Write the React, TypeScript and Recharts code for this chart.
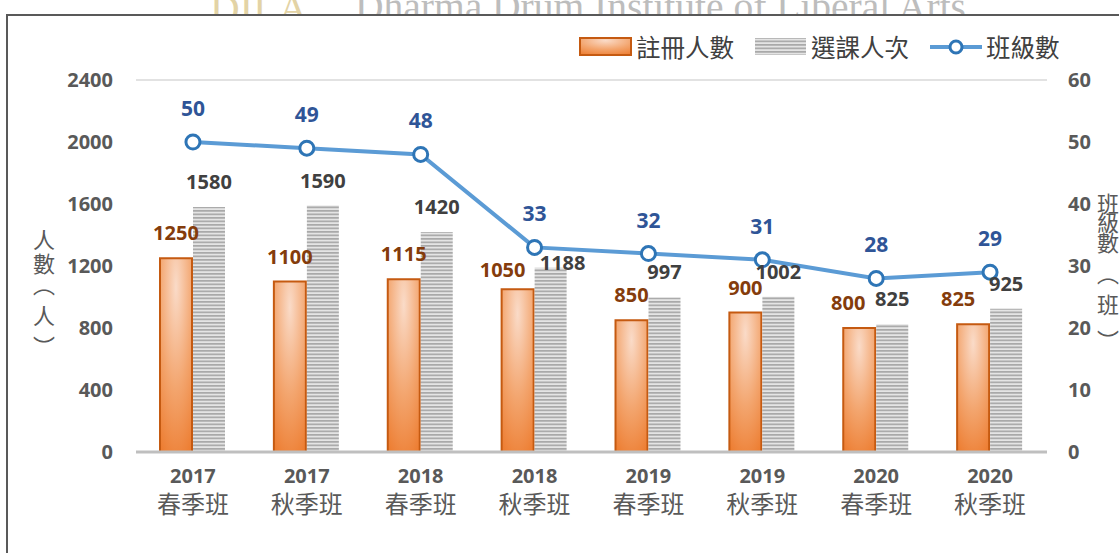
import React from 'react'
import { ComposedChart, Bar, Line, XAxis, YAxis, CartesianGrid, Legend, LabelList } from 'recharts'

const years = ['2017', '2017', '2018', '2018', '2019', '2019', '2020', '2020']
const terms = ['春季班', '秋季班', '春季班', '秋季班', '春季班', '秋季班', '春季班', '秋季班']
const registered = [1250, 1100, 1115, 1050, 850, 900, 800, 825]
const enrolled = [1580, 1590, 1420, 1188, 997, 1002, 825, 925]
const classes = [50, 49, 48, 33, 32, 31, 28, 29]
const leftTicks = [0, 400, 800, 1200, 1600, 2000, 2400]
const rightTicks = [0, 10, 20, 30, 40, 50, 60]

const data = years.map((y, i) => ({
  cat: `${y}\n${terms[i]}`,
  registered: registered[i],
  enrolled: enrolled[i],
  classes: classes[i],
}))

const NUM_FONT = '"Noto Sans", "Noto Sans CJK TC", sans-serif'
const CJK_FONT = '"Noto Sans CJK TC", "Noto Sans", sans-serif'

const XTick = (props: any) => {
  const { x, y, payload } = props
  const [yr, term] = String(payload.value).split('\n')
  return (
    <g>
      <text x={x} y={y + 29} textAnchor="middle" fill="#595959" fontSize={20} fontWeight="bold" fontFamily={NUM_FONT}>
        {yr}
      </text>
      <text x={x} y={y + 59} textAnchor="middle" fill="#595959" fontSize={24} fontFamily={CJK_FONT}>
        {term}
      </text>
    </g>
  )
}

// glyph centre offsets: ︵ sits low in its cell, ︶ sits high
const shiftFor = (c: string) => (c === '︵' ? -9 : c === '︶' ? 9 : 0)

const VerticalTitle = ({ x, ys, chars }: { x: number; ys: number[]; chars: string[] }) => (
  <text fill="#595959" fontSize={22} fontFamily={CJK_FONT} textAnchor="middle">
    {chars.map((c, i) => (
      <tspan key={i} x={x} y={ys[i] + shiftFor(c)} dominantBaseline="central">
        {c}
      </tspan>
    ))}
  </text>
)

const LegendContent = () => (
  <div style={{ display: 'flex', alignItems: 'center', fontFamily: CJK_FONT, fontSize: 24.5, color: '#404040', whiteSpace: 'nowrap' }}>
    <svg width={54} height={20} style={{ marginRight: 3 }}>
      <rect x={1} y={1} width={51} height={17} fill="url(#orangeGrad)" stroke="#C55A11" strokeWidth={2} />
    </svg>
    <span style={{ marginRight: 20 }}>註冊人數</span>
    <svg width={54} height={20} style={{ marginRight: 3 }}>
      <rect x={1} y={1} width={51} height={17} fill="url(#grayStripe)" />
    </svg>
    <span style={{ marginRight: 19 }}>選課人次</span>
    <svg width={56} height={20} style={{ marginRight: 2 }}>
      <line x1={2} y1={10} x2={54} y2={10} stroke="#5B9BD5" strokeWidth={4} />
      <circle cx={28} cy={10} r={6} fill="#fff" stroke="#2E75B6" strokeWidth={3} />
    </svg>
    <span>班級數</span>
  </div>
)

// labels that were dragged aside in the original to dodge neighbours: [dx, dy]
const registeredNudge: Record<number, [number, number]> = { 3: [-15, 6], 6: [-11, 0], 7: [-15, 0] }
const enrolledNudge: Record<number, [number, number]> = { 3: [12, 20] }

const makeBarLabel = (color: string, nudge: Record<number, [number, number]>) => (props: any) => {
  const { x, y, width, value, index } = props
  const [dx, dy] = nudge[index] || [0, 0]
  return (
    <text x={x + width / 2 + dx} y={y - 18 + dy} textAnchor="middle" fill={color} fontSize={20} fontWeight="bold" fontFamily={NUM_FONT}>
      {value}
    </text>
  )
}

const registeredLabel = makeBarLabel('#843C0C', registeredNudge)
const enrolledLabel = makeBarLabel('#404040', enrolledNudge)

export default function App() {
  return (
    <div style={{ position: 'absolute', left: 0, top: 0, width: 1119, height: 553, overflow: 'hidden', background: '#fff' }}>
      <div style={{ position: 'absolute', top: -12, left: 210, fontFamily: '"Liberation Serif", serif', fontSize: 41, lineHeight: 1, whiteSpace: 'nowrap', color: '#E3D3A5' }}>
        DILA
      </div>
      <div style={{ position: 'absolute', top: -12, left: 355, fontFamily: '"Liberation Serif", serif', fontSize: 39.5, lineHeight: 1, whiteSpace: 'nowrap', color: '#BDBDBD' }}>
        Dharma Drum Institute of Liberal Arts
      </div>
      <div style={{ position: 'absolute', left: 6, top: 14, width: 1200, height: 600, border: '2px solid #595959', background: '#fff' }} />
      <div style={{ position: 'absolute', left: 0, top: 0 }}>
        <ComposedChart width={1119} height={553} data={data} margin={{ top: 80, right: 0, left: 0, bottom: 0 }} barSize={32} barGap={1}>
          <defs>
            <radialGradient id="orangeGrad" cx="50%" cy="15%" r="95%">
              <stop offset="0%" stopColor="#FADBC8" />
              <stop offset="55%" stopColor="#F3A56E" />
              <stop offset="100%" stopColor="#ED7D31" />
            </radialGradient>
            <pattern id="grayStripe" patternUnits="userSpaceOnUse" width={8} height={3.5}>
              <rect x={0} y={0} width={8} height={3.5} fill="#E4E4E4" />
              <rect x={0} y={0} width={8} height={1.7} fill="#A9A9A9" />
            </pattern>
          </defs>
          <CartesianGrid vertical={false} stroke="#D9D9D9" strokeWidth={1.5} />
          <XAxis
            dataKey="cat"
            height={101}
            tickLine={false}
            tickSize={0}
            axisLine={{ stroke: '#BFBFBF', strokeWidth: 3 }}
            tick={<XTick />}
            interval={0}
          />
          <YAxis
            yAxisId="left"
            width={136}
            domain={[0, 2400]}
            ticks={leftTicks}
            tickLine={false}
            axisLine={false}
            tickSize={0}
            tickMargin={23}
            tick={{ fill: '#595959', fontSize: 20, fontWeight: 'bold', fontFamily: NUM_FONT }}
          />
          <YAxis
            yAxisId="right"
            orientation="right"
            width={72}
            domain={[0, 60]}
            ticks={rightTicks}
            tickLine={false}
            axisLine={false}
            tickSize={0}
            tickMargin={21}
            tick={{ fill: '#595959', fontSize: 20, fontWeight: 'bold', fontFamily: NUM_FONT, textAnchor: 'start' }}
          />
          <Legend
            layout="horizontal"
            verticalAlign="middle"
            align="center"
            content={<LegendContent />}
            wrapperStyle={{ position: 'absolute', left: 579, top: 29, width: 'auto' }}
          />
          <Bar yAxisId="left" dataKey="registered" fill="url(#orangeGrad)" stroke="#C55A11" strokeWidth={2} isAnimationActive={false}>
            <LabelList dataKey="registered" content={registeredLabel} />
          </Bar>
          <Bar yAxisId="left" dataKey="enrolled" fill="url(#grayStripe)" isAnimationActive={false}>
            <LabelList dataKey="enrolled" content={enrolledLabel} />
          </Bar>
          <Line
            yAxisId="right"
            dataKey="classes"
            stroke="#5B9BD5"
            strokeWidth={4}
            dot={{ r: 7, fill: '#fff', stroke: '#2E75B6', strokeWidth: 3 }}
            isAnimationActive={false}
          >
            <LabelList dataKey="classes" position="top" offset={26} fill="#2F5597" fontSize={21} fontWeight="bold" fontFamily={NUM_FONT} />
          </Line>
        </ComposedChart>
      </div>
      <svg width={1119} height={553} style={{ position: 'absolute', left: 0, top: 0, pointerEvents: 'none' }}>
        <VerticalTitle x={44} ys={[238, 262, 292, 314, 336]} chars={['人', '數', '︵', '人', '︶']} />
        <VerticalTitle x={1108} ys={[202, 221, 241, 281, 303, 330]} chars={['班', '級', '數', '︵', '班', '︶']} />
      </svg>
    </div>
  )
}
